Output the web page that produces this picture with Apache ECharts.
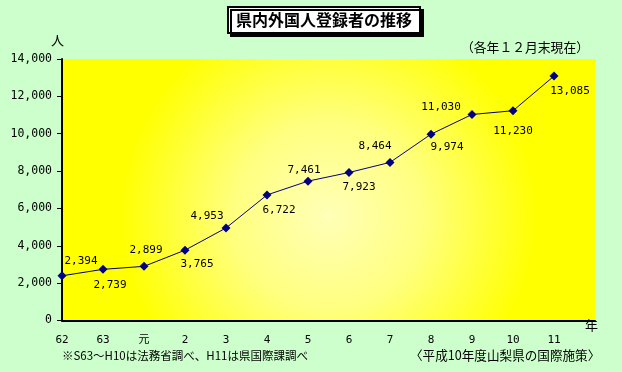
<!DOCTYPE html>
<html>
<head>
<meta charset="utf-8">
<script src="https://cdn.jsdelivr.net/npm/echarts@6/dist/echarts.min.js"></script>
<style>
html,body{margin:0;padding:0;background:#ccffcc;}
#c{width:622px;height:372px;}
</style>
</head>
<body>
<div id="c"></div>
<script>
// ---- data ----
const categories = ['62', '63', '元', '2', '3', '4', '5', '6', '7', '8', '9', '10', '11', ''];
const registered = [2394, 2739, 2899, 3765, 4953, 6722, 7461, 7923, 8464, 9974, 11030, 11230, 13085];
const yTicks = [0, 2000, 4000, 6000, 8000, 10000, 12000, 14000];

// label placement (style, not data)
const labelOffsets = [[19,-15],[7,16],[2,-16],[12,14],[-19,-12],[12,15],[-4,-11],[10,15],[-15,-16],[16,13],[-31,-7],[0,20],[16,15]];

const mono = "'DejaVu Sans Mono', 'Noto Sans CJK JP', monospace";
const jp = "'Noto Sans CJK JP', sans-serif";

const chart = echarts.init(document.getElementById('c'), null, {renderer: 'canvas'});
chart.setOption({
  backgroundColor: '#ccffcc',
  animation: false,
  title: {
    text: '県内外国人登録者の推移',
    left: 228, top: 7,
    padding: [3, 8, 3, 8],
    backgroundColor: '#ffffff',
    borderColor: '#000000',
    borderWidth: 2,
    shadowColor: '#000000',
    shadowBlur: 0,
    shadowOffsetX: 3,
    shadowOffsetY: 3,
    textStyle: {fontFamily: jp, fontSize: 16, fontWeight: 'bold', color: '#000', lineHeight: 20}
  },
  grid: {
    left: 62, right: 27, top: 59, bottom: 51.5,
    show: true,
    borderWidth: 0,
    backgroundColor: {
      type: 'radial', x: 0.5, y: 0.6, r: 0.8,
      colorStops: [
        {offset: 0, color: '#ffffb8'},
        {offset: 0.45, color: '#ffff80'},
        {offset: 1, color: '#ffff00'}
      ]
    }
  },
  xAxis: {
    type: 'category',
    data: categories,
    boundaryGap: false,
    axisLine: {lineStyle: {color: '#000', width: 2}},
    axisTick: {show: false},
    splitLine: {show: false},
    axisLabel: {fontFamily: mono, fontSize: 11, color: '#000', margin: 14, interval: 0}
  },
  yAxis: {
    type: 'value',
    min: yTicks[0],
    max: yTicks[yTicks.length - 1],
    interval: yTicks[1] - yTicks[0],
    axisLine: {show: true, lineStyle: {color: '#000', width: 2}},
    axisTick: {show: true, length: 5, lineStyle: {color: '#000', width: 1}},
    splitLine: {show: false},
    axisLabel: {
      fontFamily: mono, fontSize: 11.5, color: '#000', margin: 10,
      formatter: v => v.toLocaleString('en-US')
    }
  },
  series: [{
    type: 'line',
    data: registered.map((v, i) => ({
      value: v,
      label: {offset: labelOffsets[i]}
    })),
    symbol: 'diamond',
    symbolSize: 9,
    lineStyle: {color: '#000080', width: 1},
    itemStyle: {color: '#000080'},
    label: {
      show: true,
      position: 'inside',
      fontFamily: mono,
      fontSize: 11,
      color: '#000',
      formatter: p => p.value.toLocaleString('en-US')
    }
  }],
  graphic: [
    {type: 'text', left: 51, top: 34, style: {text: '人', font: "13px 'Noto Sans CJK JP'", fill: '#000'}},
    {type: 'text', left: 461, top: 41, style: {text: '（各年１２月末現在）', font: "12.8px 'Noto Sans CJK JP'", fill: '#000'}},
    {type: 'text', left: 585, top: 319, style: {text: '年', font: "13px 'Noto Sans CJK JP'", fill: '#000'}},
    {type: 'text', left: 62, top: 350, style: {text: '※S63～H10は法務省調べ、H11は県国際課調べ', font: "11.5px 'Noto Sans CJK JP'", fill: '#000'}},
    {type: 'text', left: 410, top: 349, style: {text: '〈平成10年度山梨県の国際施策〉', font: "12.6px 'Noto Sans CJK JP'", fill: '#000'}}
  ]
});
</script>
</body>
</html>
